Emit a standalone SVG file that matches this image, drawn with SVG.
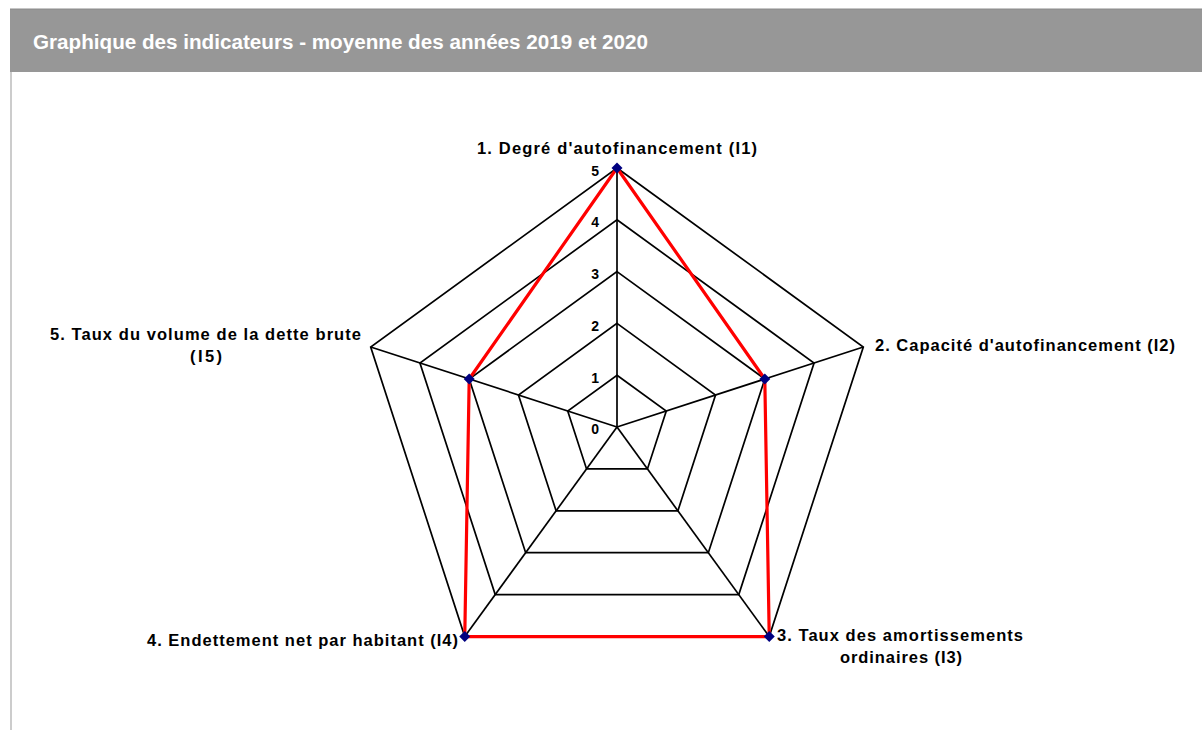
<svg xmlns="http://www.w3.org/2000/svg" width="1202" height="730" viewBox="0 0 1202 730">
<style>
.lbl{font-family:"Liberation Sans",Arial,sans-serif;font-weight:bold;font-size:16.5px;fill:#000}
.num{font-family:"Liberation Sans",Arial,sans-serif;font-weight:bold;font-size:14px;fill:#000;text-anchor:end}
.grid{fill:none;stroke:#000;stroke-width:1.7;stroke-linejoin:miter}
.data{fill:none;stroke:#ff0000;stroke-width:3.2;stroke-linejoin:round}
.mk{fill:#000080}
</style>
<defs>
<path id="dia" d="M0,-5.5 L5.5,0 L0,5.5 L-5.5,0 Z"/>
</defs>
<rect x="0" y="0" width="1202" height="730" fill="#fff"/>
<g id="header">
<rect x="10" y="9" width="1192" height="63" fill="#979797"/>
<line x1="10" y1="9" x2="1202" y2="9" stroke="#8a8a8a" stroke-width="1"/>
<text x="33" y="49" font-family="Liberation Sans, Arial, sans-serif" font-weight="bold" font-size="20" fill="#fff" textLength="615" lengthAdjust="spacingAndGlyphs">Graphique des indicateurs - moyenne des années 2019 et 2020</text>
</g>
<line x1="11" y1="72" x2="11" y2="730" stroke="#bbbbbb" stroke-width="1.5"/>
<g id="connectors">
<g class="grid">
<polygon points="617,375.2 666.27,410.99 647.45,468.91 586.55,468.91 567.73,410.99"/>
<polygon points="617,323.4 715.53,394.99 677.90,510.82 556.10,510.82 518.47,394.99"/>
<polygon points="617,271.6 764.80,378.98 708.34,552.72 525.66,552.72 469.20,378.98"/>
<polygon points="617,219.8 814.06,362.97 738.79,594.63 495.21,594.63 419.94,362.97"/>
<polygon points="617,168 863.32,346.96 769.24,636.54 464.76,636.54 370.68,346.96"/>
<line x1="617" y1="427" x2="617" y2="168"/>
<line x1="617" y1="427" x2="863.32" y2="346.96"/>
<line x1="617" y1="427" x2="769.24" y2="636.54"/>
<line x1="617" y1="427" x2="464.76" y2="636.54"/>
<line x1="617" y1="427" x2="370.68" y2="346.96"/>
</g>
<polygon class="data" points="617,168 764.80,378.98 769.24,636.54 464.76,636.54 469.20,378.98"/>
</g>
<g id="markers">
<use href="#dia" class="mk" x="617" y="168"/>
<use href="#dia" class="mk" x="764.8" y="378.98"/>
<use href="#dia" class="mk" x="769.24" y="636.54"/>
<use href="#dia" class="mk" x="464.76" y="636.54"/>
<use href="#dia" class="mk" x="469.2" y="378.98"/>
</g>
<g id="scale">
<text class="num" x="599" y="434">0</text>
<text class="num" x="599" y="382.5">1</text>
<text class="num" x="599" y="330.5">2</text>
<text class="num" x="599" y="279">3</text>
<text class="num" x="599" y="227">4</text>
<text class="num" x="599" y="175.5">5</text>
</g>
<g id="node-I1">
<text class="lbl" x="477" y="154" textLength="280" lengthAdjust="spacing">1. Degré d'autofinancement (I1)</text>
</g>
<g id="node-I2">
<text class="lbl" x="875" y="351" textLength="300" lengthAdjust="spacing">2. Capacité d'autofinancement (I2)</text>
</g>
<g id="node-I3">
<text class="lbl" x="777" y="641" textLength="246" lengthAdjust="spacing">3. Taux des amortissements</text>
<text class="lbl" x="840" y="663" textLength="122" lengthAdjust="spacing">ordinaires (I3)</text>
</g>
<g id="node-I4">
<text class="lbl" x="147" y="646" textLength="311" lengthAdjust="spacing">4. Endettement net par habitant (I4)</text>
</g>
<g id="node-I5">
<text class="lbl" x="50" y="340" textLength="311" lengthAdjust="spacing">5. Taux du volume de la dette brute</text>
<text class="lbl" x="190" y="362" textLength="32" lengthAdjust="spacing">(I5)</text>
</g>
</svg>
